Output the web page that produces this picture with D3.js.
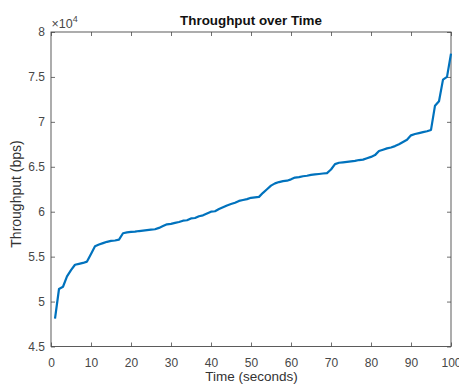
<!DOCTYPE html>
<html><head><meta charset="utf-8">
<script src="https://cdn.jsdelivr.net/npm/d3@7"></script>
<style>body{margin:0;background:#fff}svg{display:block}text{font-family:"Liberation Sans",Arial,sans-serif}</style>
</head><body><svg id="c" width="459" height="385"></svg>
<script>
const times = d3.range(1, 101);
const throughput = [
48100,51400,51650,52800,53500,54100,54200,54300,54450,55300,
56150,56350,56500,56650,56750,56800,56900,57600,57700,57750,
57780,57850,57900,57950,58000,58050,58200,58400,58600,58650,
58750,58850,59000,59050,59250,59300,59500,59600,59800,60000,
60050,60300,60500,60700,60850,61000,61200,61300,61400,61550,
61600,61650,62100,62500,62900,63150,63300,63400,63450,63600,
63800,63850,63950,64000,64100,64150,64200,64250,64300,64700,
65300,65450,65500,65550,65600,65650,65750,65800,65950,66100,
66300,66750,66900,67050,67150,67300,67500,67750,68000,68500,
68650,68750,68850,68950,69100,71800,72300,74700,75000,77600];
const xTicks = [0,10,20,30,40,50,60,70,80,90,100];
const yTicks = [45000,50000,55000,60000,65000,70000,75000,80000];
const yTickLabels = ["4.5","5","5.5","6","6.5","7","7.5","8"];
const titleText = "Throughput over Time";
const xLabel = "Time (seconds)";
const yLabel = "Throughput (bps)";

const L = 51, R = 451, T = 32, B = 346.5;
const svg = d3.select("#c");
const x = d3.scaleLinear().domain([0,100]).range([L,R]);
const y = d3.scaleLinear().domain([45000,80000]).range([B,T]);
const axisColor = "#4a4a4a";

function style(g){
  g.select(".domain").remove();
  g.selectAll("line").attr("stroke", axisColor).attr("stroke-width",0.8);
  g.selectAll("text").attr("fill","#474747").attr("font-size","12px");
}
svg.append("g").attr("transform",`translate(0,${B})`)
  .call(d3.axisBottom(x).tickValues(xTicks).tickSizeInner(-4).tickSizeOuter(0).tickPadding(12))
  .call(style);
svg.append("g").attr("transform",`translate(0,${T})`)
  .call(d3.axisTop(x).tickValues(xTicks).tickSizeInner(-4).tickSizeOuter(0).tickFormat(""))
  .call(style);
svg.append("g").attr("transform",`translate(${L},0)`)
  .call(d3.axisLeft(y).tickValues(yTicks).tickSizeInner(-4).tickSizeOuter(0).tickPadding(6)
    .tickFormat((d,i)=>yTickLabels[i]))
  .call(style);
svg.append("g").attr("transform",`translate(${R},0)`)
  .call(d3.axisRight(y).tickValues(yTicks).tickSizeInner(-4).tickSizeOuter(0).tickFormat(""))
  .call(style);

svg.append("rect").attr("x",L).attr("y",T).attr("width",R-L).attr("height",B-T)
  .attr("fill","none").attr("stroke",axisColor).attr("stroke-width",0.9);

const line = d3.line().x((d,i)=>x(times[i])).y(d=>y(d));
svg.append("path").datum(throughput).attr("d",line)
  .attr("fill","none").attr("stroke","#0072BD").attr("stroke-width",2.2)
  .attr("stroke-linejoin","round");

svg.append("text").attr("x",251).attr("y",24.5).attr("text-anchor","middle")
  .attr("font-weight","bold").attr("font-size","13.4px").attr("fill","#111").text(titleText);
svg.append("text").attr("x",251.5).attr("y",380.5).attr("text-anchor","middle")
  .attr("font-size","13.5px").attr("fill","#333").text(xLabel);
svg.append("text").attr("transform","translate(20.5,194) rotate(-90)").attr("text-anchor","middle")
  .attr("font-size","14px").attr("fill","#333").text(yLabel);
const ex = svg.append("text").attr("x",51.5).attr("y",27.5).attr("font-size","12.5px").attr("fill","#474747");
ex.append("tspan").text("×10");
ex.append("tspan").attr("dy",-6).attr("font-size","9px").text("4");
</script></body></html>
